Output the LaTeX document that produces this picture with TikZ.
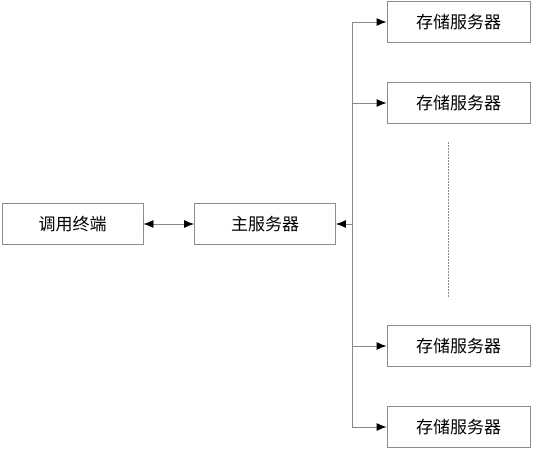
\documentclass[tikz,border=0pt]{standalone}
\usepackage{fontspec}
\setmainfont{Noto Sans CJK SC}
\usetikzlibrary{arrows.meta}
\definecolor{boxline}{HTML}{8C8C8C}
\definecolor{wireline}{HTML}{8A8A8A}
\definecolor{tipcol}{HTML}{000000}

\begin{document}
\begin{tikzpicture}[
  x=1pt, y=-1pt,
  >={Latex[length=10pt,width=8pt,color=tipcol]},
  box/.style={draw=boxline, line width=0.9pt, fill=white, minimum width=141pt,
              minimum height=41pt, inner sep=0pt, font=\fontsize{17}{17}\selectfont},
  sbox/.style={box, minimum width=143pt},
  arr/.style={->, draw=wireline, line width=0.9pt},
  bus/.style={draw=wireline, line width=0.9pt},
  gap/.style={draw=wireline, line width=1pt, dash pattern=on 2pt off 1pt},
]
\useasboundingbox (0,0) rectangle (533,450);

% ---- left side ----
\node[box]  (term) at (72.5,224)  {调用终端};
\node[box]  (main) at (265,224)   {主服务器};

% ---- storage column ----
\node[sbox] (st1)  at (458.5,22)  {存储服务器};
\node[sbox] (st2)  at (458.5,103) {存储服务器};
\node[sbox] (st3)  at (458.5,346) {存储服务器};
\node[sbox] (st4)  at (458.5,427) {存储服务器};

% ---- bus ----
\coordinate (bt) at (352,22);
\coordinate (bm) at (352,224);
\coordinate (bb) at (352,427);
\coordinate (dt) at (448,142);
\coordinate (db) at (448,298);

% ---- arrows ----
\draw[arr, <->] (term.east) -- (main.west);
\draw[bus] (bt) -- (bb);
\draw[arr] (bm) -- (main.east);
\draw[arr] (bt) -- (st1.west);
\draw[arr] (bt |- st2.west) -- (st2.west);
\draw[arr] (bt |- st3.west) -- (st3.west);
\draw[arr] (bb) -- (st4.west);
\draw[gap] (dt) -- (db);

\end{tikzpicture}
\end{document}
